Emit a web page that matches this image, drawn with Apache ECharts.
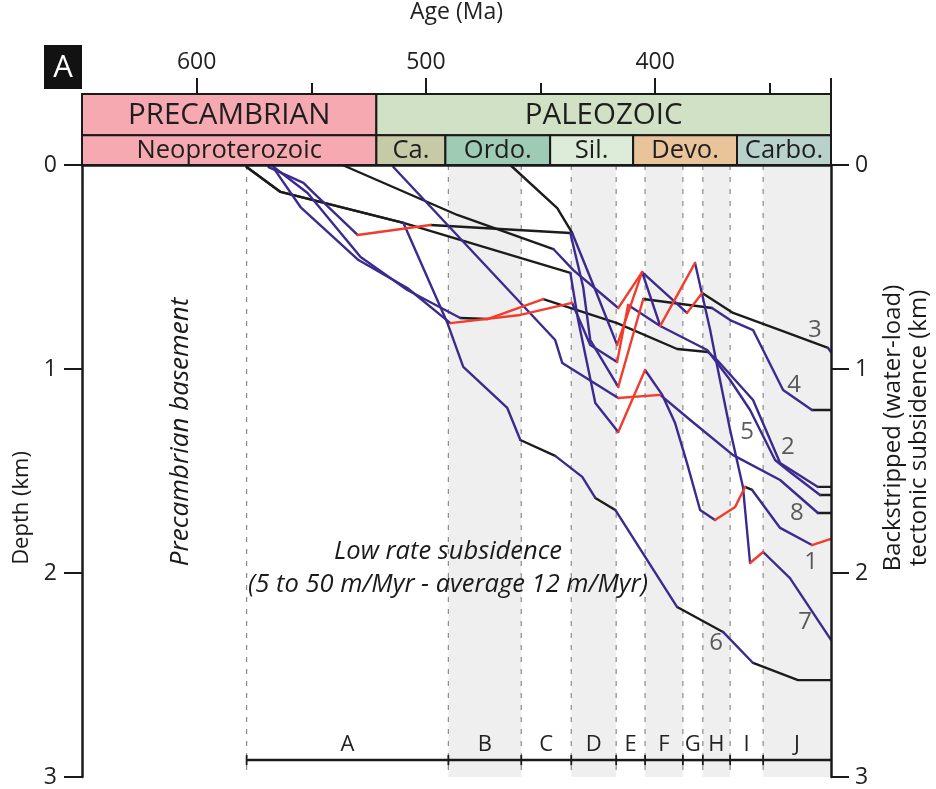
<!DOCTYPE html>
<html><head><meta charset="utf-8">
<script src="https://cdn.jsdelivr.net/npm/echarts@6/dist/echarts.min.js"></script>
<style>html,body{margin:0;padding:0;background:#fff}#c{width:936px;height:789px}</style>
</head><body><div id="c"></div>
<script>
// ---------- data ----------
const AGE_OLD = 650, AGE_YOUNG = 323.3;
const ageTicks = [600, 500, 400];
const ageMinorTicks = [550, 450, 350];

const eraNames = ['PRECAMBRIAN', 'PALEOZOIC'];
const eraBounds = [650, 521.6, 323.3];
const periodNames = ['Neoproterozoic', 'Ca.', 'Ordo.', 'Sil.', 'Devo.', 'Carbo.'];
const periodBounds = [650, 521.6, 491.5, 445.8, 409.6, 364.3, 323.3];

const zoneNames = ['A','B','C','D','E','F','G','H','I','J'];
const zoneBounds = [578.2, 490.2, 458.4, 436.6, 417.0, 404.4, 387.9, 379.2, 367.3, 352.9, 323.3];
const zoneShaded = [0,1,0,1,0,1,0,1,0,1];

// segment classes: K = slow (black), P = subsidence (purple), R = uplift (red)
const well1Age = [578.2,563.4,509.8,437.0,433.6,426.1,416.1,404.4,396.9,391.3,386.1,380.4,373.9,365.1,360.8,357.7,345.5,331.6,323.3];
const well1Depth = [0.01,0.132,0.284,0.529,0.76,1.167,1.309,1.005,1.127,1.265,1.461,1.691,1.74,1.676,1.578,1.593,1.779,1.863,1.833];
const well1Seg = 'KKKPPPRPPPPPRRKPPR';

const well2Age = [566.4,554.7,529.4,508.1,489.3,458.8,436.2,428.3,416.6,411.8,397.8,377.3,367.3,358.6,347.7,341.2,328.1,323.3];
const well2Depth = [0.015,0.206,0.466,0.603,0.775,0.735,0.676,0.882,0.966,0.686,0.789,0.907,1.054,1.201,1.446,1.505,1.618,1.618];
const well2Seg = 'PPPPRRPPRPPPPPPPK';

const well3Age = [536.4,486.3,444.4,435.7,416.1,405.7,386.1,379.5,366.0,345.5,324.6,323.3];
const well3Depth = [0,0.245,0.412,0.515,0.701,0.525,0.725,0.627,0.725,0.809,0.897,0.917];
const well3Seg = 'KKPPRPRKKKP';

const well4Age = [568.6,553.4,549.0,529.8,498.0,437.0,431.4,428.3,416.1,405.2,375.2,367.3,357.3,344.2,331.6,323.3];
const well4Depth = [0.01,0.088,0.137,0.343,0.294,0.333,0.598,0.858,1.088,0.657,0.701,0.76,0.809,1.103,1.201,1.201];
const well4Seg = 'PPPRKPPPRKPPPPK';

const well5Age = [566.4,551.6,528.5,508.1,485.0,473.2,448.8,416.6,390.4,376.9,373.0,357.3,345.5,329.0,323.3];
const well5Depth = [0.01,0.137,0.451,0.613,0.75,0.755,0.657,0.775,0.902,0.917,0.956,1.152,1.461,1.578,1.578];
const well5Seg = 'PPPPKRKKKPPPPK';

const well6Age = [578.2,563.4,509.8,490.6,483.7,464.5,458.8,443.6,431.8,426.1,417.4,390.4,370.4,357.3,337.7,323.3];
const well6Depth = [0.01,0.132,0.284,0.775,0.99,1.191,1.348,1.426,1.529,1.632,1.691,2.167,2.289,2.441,2.525,2.525];
const well6Seg = 'KKPPPPKPPKPKPKK';

const well7Age = [463.2,442.7,436.2,426.1,416.6,405.7,397.8,382.6,376.0,372.6,367.3,361.7,358.6,352.9,341.2,323.3];
const well7Depth = [0,0.211,0.333,0.613,0.882,0.525,0.789,0.48,0.809,1.005,1.299,1.578,1.951,1.897,2.025,2.328];
const well7Seg = 'KKPPRPRPPPPPRPP';

const well8Age = [514.2,443.6,440.5,416.1,397.8,384.7,366.0,345.5,329.0,323.3];
const well8Depth = [0.01,0.858,0.971,1.142,1.127,1.25,1.422,1.544,1.706,1.706];
const well8Seg = 'PPPRPPPPK';

const wellNames = ['1','2','3','4','5','6','7','8'];
const wellLabelAge = [332.0, 342.1, 330.3, 339.4, 359.9, 373.4, 334.6, 338.2];
const wellLabelDepth = [1.946, 1.382, 0.809, 1.078, 1.309, 2.343, 2.24, 1.706];

// ---------- styling / build ----------
const FONT = 'Open Sans';
const eraColors = ['#f6a9b0', '#d1e1c5'];
const periodColors = ['#f6a9b0', '#c6caa6', '#9fcab3', '#dcecd9', '#e9c49b', '#b8d1ca'];
const segColors = {K: '#1c1c1c', P: '#3d2a8f', R: '#f23c2c'};
const ROW_SPLIT = 0.58;   // header row split (era / period)
const BAR_DEPTH = 2.917, ZONE_LABEL_DEPTH = 2.84;

const wells = [
  [well1Age, well1Depth, well1Seg], [well2Age, well2Depth, well2Seg],
  [well3Age, well3Depth, well3Seg], [well4Age, well4Depth, well4Seg],
  [well5Age, well5Depth, well5Seg], [well6Age, well6Depth, well6Seg],
  [well7Age, well7Depth, well7Seg], [well8Age, well8Depth, well8Seg]
];
const runs = {K: [], P: [], R: []};
wells.forEach(([ages, depths, seg]) => {
  let i = 0;
  while (i < seg.length) {
    let j = i;
    while (j < seg.length && seg[j] === seg[i]) j++;
    const coords = [];
    for (let k = i; k <= j; k++) coords.push([ages[k], depths[k]]);
    runs[seg[i]].push({coords});
    i = j;
  }
});

const headerData = [];
eraNames.forEach((n, i) => headerData.push([eraBounds[i], eraBounds[i+1], 0, i, 0]));
periodNames.forEach((n, i) => headerData.push([periodBounds[i], periodBounds[i+1], 1, i, 1]));

const zoneData = zoneNames.map((n, i) => [zoneBounds[i], zoneBounds[i+1], zoneShaded[i], i]);

function lineSeries(key, z) {
  return {
    type: 'lines', coordinateSystem: 'cartesian2d', xAxisIndex: 0, yAxisIndex: 0,
    polyline: true, z: z, silent: true,
    lineStyle: {color: segColors[key], width: 2.4, opacity: 1, cap: 'round', join: 'round'},
    data: runs[key]
  };
}

const chart = echarts.init(document.getElementById('c'), null, {renderer: 'canvas'});
const option = {
  animation: false,
  textStyle: {fontFamily: FONT},
  grid: [
    {left: 82, right: 105, top: 165, bottom: 12},
    {left: 82, right: 105, top: 89, height: 76}
  ],
  xAxis: [
    {gridIndex: 0, type: 'value', min: AGE_YOUNG, max: AGE_OLD, inverse: true, position: 'bottom',
     axisLine: {show: true, lineStyle: {color: '#1a1a1a', width: 2.5}}, axisTick: {show: false},
     axisLabel: {show: false}, splitLine: {show: false}, z: 10},
    {gridIndex: 1, type: 'value', min: AGE_YOUNG, max: AGE_OLD, inverse: true, position: 'top',
     name: 'Age (Ma)', nameLocation: 'middle', nameGap: 70,
     nameTextStyle: {fontSize: 23, color: '#222', fontFamily: FONT},
     axisLine: {show: true, lineStyle: {color: '#1a1a1a', width: 2}},
     axisTick: {show: true, length: 16, lineStyle: {color: '#1a1a1a', width: 2}, customValues: ageTicks.concat([AGE_YOUNG])},
     axisLabel: {show: true, customValues: ageTicks, margin: 20, fontSize: 23, color: '#222', fontFamily: FONT},
     splitLine: {show: false}, z: 10},
    {gridIndex: 1, type: 'value', min: AGE_YOUNG, max: AGE_OLD, inverse: true, position: 'top',
     axisLine: {show: false},
     axisTick: {show: true, length: 11, lineStyle: {color: '#1a1a1a', width: 2}, customValues: ageMinorTicks},
     axisLabel: {show: false}, splitLine: {show: false}, z: 10}
  ],
  yAxis: [
    {gridIndex: 0, type: 'value', min: 0, max: 3, interval: 1, inverse: true, position: 'left',
     axisLine: {show: true, lineStyle: {color: '#1a1a1a', width: 2.5}},
     axisTick: {show: true, length: 18, lineStyle: {color: '#1a1a1a', width: 2}},
     axisLabel: {margin: 25, fontSize: 23, color: '#222', fontFamily: FONT},
     splitLine: {show: false}, z: 10},
    {gridIndex: 0, type: 'value', min: 0, max: 3, interval: 1, inverse: true, position: 'right',
     axisLine: {show: true, lineStyle: {color: '#1a1a1a', width: 2.5}},
     axisTick: {show: true, length: 18, lineStyle: {color: '#1a1a1a', width: 2}},
     axisLabel: {margin: 24, fontSize: 23, color: '#222', fontFamily: FONT},
     splitLine: {show: false}, z: 10},
    {gridIndex: 1, type: 'value', min: 0, max: 1, inverse: true, show: false}
  ],
  graphic: [
    {type: 'rect', left: 44, top: 45, shape: {width: 38, height: 44}, style: {fill: '#121212'}, z: 20},
    {type: 'text', x: 63, y: 68, style: {text: 'A', fill: '#fff', fontSize: 31, fontFamily: FONT, align: 'center', verticalAlign: 'middle'}, z: 21},
    {type: 'text', x: 181, y: 432, rotation: Math.PI / 2, style: {text: 'Precambrian basement', fill: '#1a1a1a', fontSize: 26, fontStyle: 'italic', fontFamily: FONT, align: 'center', verticalAlign: 'middle'}, z: 20},
    {type: 'text', x: 448, y: 552, style: {text: 'Low rate subsidence', fill: '#1a1a1a', fontSize: 25.5, fontStyle: 'italic', fontFamily: FONT, align: 'center', verticalAlign: 'middle'}, z: 20},
    {type: 'text', x: 448, y: 585, style: {text: '(5 to 50 m/Myr - average 12 m/Myr)', fill: '#1a1a1a', fontSize: 25.5, fontStyle: 'italic', fontFamily: FONT, align: 'center', verticalAlign: 'middle'}, z: 20},
    {type: 'text', x: 22, y: 508, rotation: Math.PI / 2, style: {text: 'Depth (km)', fill: '#1a1a1a', fontSize: 22, fontFamily: FONT, align: 'center', verticalAlign: 'middle'}, z: 20},
    {type: 'text', x: 893, y: 428, rotation: Math.PI / 2, style: {text: 'Backstripped (water-load)', fill: '#1a1a1a', fontSize: 24, fontFamily: FONT, align: 'center', verticalAlign: 'middle'}, z: 20},
    {type: 'text', x: 919, y: 428, rotation: Math.PI / 2, style: {text: 'tectonic subsidence (km)', fill: '#1a1a1a', fontSize: 24, fontFamily: FONT, align: 'center', verticalAlign: 'middle'}, z: 20}
  ],
  series: [
    { // header bands
      type: 'custom', xAxisIndex: 1, yAxisIndex: 2, silent: true, z: 5,
      data: headerData,
      renderItem: function (params, api) {
        const s = api.value(0), e = api.value(1), row = api.value(2), idx = api.value(3);
        const y0 = row === 0 ? 0 : ROW_SPLIT, y1 = row === 0 ? ROW_SPLIT : 1;
        const p1 = api.coord([s, y0]), p2 = api.coord([e, y1]);
        const x = Math.min(p1[0], p2[0]), y = Math.min(p1[1], p2[1]);
        const w = Math.abs(p2[0] - p1[0]), h = Math.abs(p2[1] - p1[1]);
        const name = row === 0 ? eraNames[idx] : periodNames[idx];
        const fill = row === 0 ? eraColors[idx] : periodColors[idx];
        return {
          type: 'group',
          children: [
            {type: 'rect', shape: {x: x, y: y, width: w, height: h}, style: {fill: fill, stroke: '#1a1a1a', lineWidth: 2}},
            {type: 'text', x: x + w / 2, y: y + h / 2 + 1,
             style: {text: name, fill: '#1e1e1e', fontSize: row === 0 ? 29.5 : 25.5, fontFamily: FONT, align: 'center', verticalAlign: 'middle'}}
          ]
        };
      }
    },
    { // zones: shading, dashed boundaries, bar and letters
      type: 'custom', xAxisIndex: 0, yAxisIndex: 0, silent: true, z: 1,
      data: zoneData,
      renderItem: function (params, api) {
        const s = api.value(0), e = api.value(1), shaded = api.value(2), idx = api.value(3);
        const top = api.coord([s, 0]), bot = api.coord([e, 3]);
        const children = [];
        if (shaded) children.push({type: 'rect', shape: {x: top[0], y: top[1], width: bot[0] - top[0], height: bot[1] - top[1]}, style: {fill: '#efefef'}});
        children.push({type: 'line', shape: {x1: top[0], y1: top[1], x2: top[0], y2: bot[1]}, style: {stroke: '#8c8c8c', lineWidth: 1.2, lineDash: [5, 7]}});
        const b1 = api.coord([s, BAR_DEPTH]), b2 = api.coord([e, BAR_DEPTH]);
        children.push({type: 'line', shape: {x1: b1[0], y1: b1[1], x2: b2[0], y2: b2[1]}, style: {stroke: '#1a1a1a', lineWidth: 2.5}});
        children.push({type: 'line', shape: {x1: b1[0], y1: b1[1] - 5, x2: b1[0], y2: b1[1] + 5}, style: {stroke: '#1a1a1a', lineWidth: 1.8}});
        const m = api.coord([(s + e) / 2, ZONE_LABEL_DEPTH]);
        children.push({type: 'text', x: m[0], y: m[1], style: {text: zoneNames[idx], fill: '#222', fontSize: 22, fontFamily: FONT, align: 'center', verticalAlign: 'middle'}});
        return {type: 'group', children: children};
      }
    },
    lineSeries('K', 3),
    lineSeries('P', 4),
    lineSeries('R', 5),
    { // well number labels
      type: 'scatter', xAxisIndex: 0, yAxisIndex: 0, symbolSize: 0, silent: true, z: 6,
      data: wellNames.map((n, i) => ({value: [wellLabelAge[i], wellLabelDepth[i]], name: n})),
      label: {show: true, position: 'inside', formatter: '{b}', fontSize: 24, color: '#333', fontFamily: FONT}
    }
  ]
};
chart.setOption(option);
</script>
</body></html>
